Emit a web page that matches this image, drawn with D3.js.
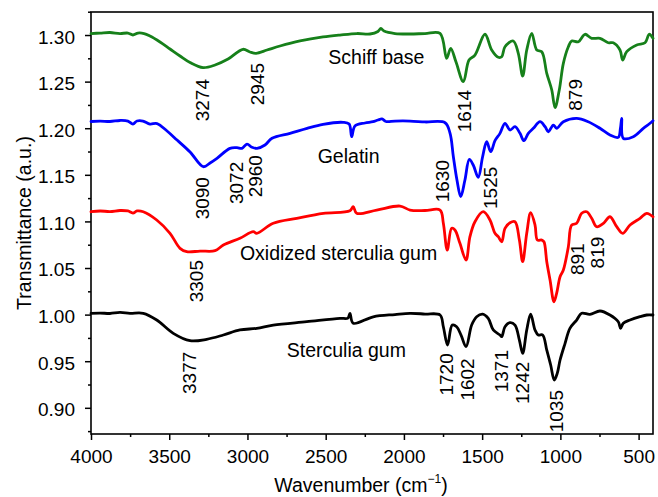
<!DOCTYPE html>
<html>
<head>
<meta charset="utf-8">
<script src="https://cdn.jsdelivr.net/npm/d3@7"></script>
<style>
  html, body { margin: 0; padding: 0; background: #fff; }
  svg text { font-family: "Liberation Sans", Arial, Helvetica, sans-serif; fill: #000; }
</style>
</head>
<body>
<svg id="chart" width="658" height="497"></svg>
<script>
// FTIR spectra: [wavenumber (cm-1), transmittance (a.u.)]
const schiffBase = [
  [4000,1.3016],[3942,1.3021],[3879,1.3027],[3815,1.3016],[3764,1.3021],[3732,1.300],[3700,1.3021],
  [3661,1.3016],[3623,1.2989],[3559,1.2925],[3495,1.285],[3431,1.2775],[3367,1.2705],[3284,1.265],
  [3207,1.2678],[3124,1.2742],[3029,1.2847],[2984,1.2818],[2945,1.2804],[2875,1.2839],[2792,1.2882],
  [2664,1.2936],[2517,1.2979],[2409,1.300],[2300,1.3016],[2217,1.3011],[2166,1.3038],[2147,1.307],
  [2127,1.3043],[2057,1.3016],[1961,1.3011],[1865,1.3016],[1769,1.3018],[1727,1.275],[1701,1.2857],
  [1667,1.271],[1620,1.2499],[1584,1.2732],[1546,1.2785],[1482,1.3008],[1439,1.2839],[1397,1.2761],
  [1375,1.2767],[1354,1.2874],[1301,1.2936],[1269,1.2804],[1241,1.256],[1215,1.2839],[1183,1.3018],
  [1151,1.2839],[1119,1.2821],[1087,1.2589],[1055,1.241],[1034,1.222],[1007,1.241],[981,1.2696],
  [949,1.2874],[928,1.2936],[885,1.2928],[843,1.3008],[800,1.2965],[747,1.2965],[694,1.2917],
  [662,1.2917],[619,1.2839],[602,1.2732],[576,1.2821],[512,1.2893],[459,1.2917],[432,1.3008],[408,1.2965]
];
const gelatin = [
  [4000,1.2072],[3942,1.2077],[3879,1.2072],[3815,1.2083],[3764,1.2077],[3732,1.2045],[3706,1.2077],
  [3668,1.2077],[3623,1.2045],[3578,1.205],[3514,1.197],[3450,1.1873],[3367,1.1745],[3282,1.1587],
  [3239,1.1627],[3195,1.1677],[3112,1.1784],[3067,1.1791],[3035,1.1784],[3003,1.183],[2971,1.1795],
  [2939,1.1784],[2888,1.182],[2843,1.1892],[2728,1.1945],[2619,1.1999],[2517,1.2042],[2389,1.2063],
  [2350,1.2045],[2334,1.1909],[2313,1.2024],[2249,1.2056],[2198,1.207],[2166,1.2088],[2140,1.2099],
  [2115,1.2072],[2057,1.2077],[1961,1.2077],[1865,1.2067],[1737,1.2059],[1705,1.1945],[1684,1.1694],
  [1661,1.1444],[1637,1.1265],[1610,1.1444],[1582,1.1666],[1557,1.1605],[1525,1.1473],[1497,1.1694],
  [1471,1.1855],[1445,1.1748],[1418,1.1866],[1386,1.1945],[1354,1.2053],[1322,1.1981],[1290,1.2016],
  [1258,1.1945],[1233,1.1866],[1205,1.1945],[1173,1.1999],[1130,1.207],[1098,1.2016],[1077,1.1962],
  [1045,1.2034],[1024,1.1999],[981,1.207],[896,1.2106],[822,1.207],[747,1.1999],[683,1.1927],
  [630,1.1902],[616,1.2002],[608,1.2106],[598,1.1892],[534,1.1909],[470,1.1999],[427,1.2053],[408,1.2081]
];
const oxidizedGum = [
  [4000,1.1104],[3942,1.1112],[3879,1.1106],[3815,1.1117],[3764,1.1112],[3732,1.109],[3706,1.1112],
  [3666,1.1104],[3580,1.1015],[3495,1.0872],[3431,1.0711],[3388,1.0675],[3303,1.0682],[3207,1.0686],
  [3154,1.0747],[3048,1.0819],[2963,1.089],[2941,1.0872],[2835,1.098],[2685,1.1033],[2515,1.1087],
  [2345,1.1115],[2324,1.1158],[2302,1.1087],[2174,1.1122],[2025,1.1165],[1961,1.1122],[1865,1.1117],
  [1769,1.1122],[1748,1.098],[1723,1.0693],[1695,1.0926],[1674,1.0908],[1642,1.0765],[1603,1.0586],
  [1578,1.0836],[1546,1.0997],[1493,1.1104],[1450,1.1015],[1418,1.0872],[1397,1.0836],[1375,1.0782],
  [1354,1.0926],[1322,1.0986],[1290,1.0997],[1262,1.08],[1241,1.0568],[1215,1.0872],[1190,1.1093],
  [1162,1.0961],[1147,1.08],[1119,1.08],[1105,1.0782],[1087,1.0568],[1066,1.0371],[1041,1.0138],
  [1024,1.0228],[1002,1.0407],[981,1.0479],[949,1.0729],[928,1.0961],[896,1.098],[864,1.1087],
  [832,1.1104],[800,1.1033],[768,1.0943],[725,1.098],[683,1.105],[640,1.0943],[602,1.0872],
  [555,1.0961],[491,1.1033],[448,1.1087],[408,1.105]
];
const sterculiaGum = [
  [4000,1.0014],[3942,1.0017],[3879,1.0012],[3815,1.0023],[3751,1.0014],[3666,1.0014],[3580,0.9942],
  [3474,0.9799],[3367,0.972],[3261,0.9735],[3154,0.9781],[3048,0.9835],[2941,0.9853],[2835,0.9888],
  [2621,0.9924],[2409,0.996],[2358,0.9963],[2345,1.0014],[2324,0.9907],[2196,0.9977],[2057,1.0001],
  [1961,1.0014],[1865,1.0006],[1769,0.9996],[1748,0.987],[1721,0.9674],[1691,0.9888],[1663,0.987],
  [1635,0.9781],[1603,0.9656],[1567,0.9888],[1535,0.9977],[1497,1.0006],[1461,0.996],[1429,0.9835],
  [1386,0.9781],[1375,0.9763],[1354,0.987],[1322,0.9914],[1290,0.9888],[1262,0.9727],[1241,0.9585],
  [1215,0.9835],[1190,1.0006],[1162,0.9835],[1141,0.9781],[1113,0.9781],[1087,0.962],[1062,0.9459],
  [1039,0.9298],[1020,0.937],[1002,0.9513],[970,0.9692],[939,0.9853],[896,0.9942],[864,1.0014],
  [811,1.0003],[747,1.0039],[683,0.9996],[630,0.9924],[615,0.9853],[598,0.9907],[555,0.9942],
  [491,0.9978],[448,0.9996],[408,0.9996]
];

const seriesNames  = ["Schiff base", "Gelatin", "Oxidized sterculia gum", "Sterculia gum"];
const seriesData   = [schiffBase, gelatin, oxidizedGum, sterculiaGum];
const seriesColors = ["#16801a", "#0000ff", "#ff0000", "#000000"];

// Axis ticks
const xMajorTicks = [4000, 3500, 3000, 2500, 2000, 1500, 1000, 500];
const xMinorTicks = [3750, 3250, 2750, 2250, 1750, 1250, 750];
const yMajorTicks = [0.90, 0.95, 1.00, 1.05, 1.10, 1.15, 1.20, 1.25, 1.30];
const yMinorTicks = [0.875, 0.925, 0.975, 1.025, 1.075, 1.125, 1.175, 1.225, 1.275, 1.325];

// Series name placement: [name index, wavenumber at text start, transmittance at baseline]
const nameSpots = [[0, 2483, 1.2689], [1, 2551, 1.163], [2, 3048, 1.0586], [3, 2749, 0.9548]];

// Band labels: [text, wavenumber at label centre, transmittance at label top]
const bandLabels = [
  ["3274", 3287, 1.2528], ["2945", 2939, 1.270], ["1614", 1613, 1.241], ["879", 907, 1.2528],
  ["3090", 3287, 1.1476], ["3072", 3070, 1.164], ["2960", 2952, 1.1712], ["1630", 1753, 1.1659], ["1525", 1450, 1.1587],
  ["3305", 3329, 1.0586], ["891", 891, 1.0765], ["819", 763, 1.0836],
  ["3377", 3374, 0.9602], ["1720", 1727, 0.9585], ["1602", 1595, 0.9531], ["1371", 1379, 0.962],
  ["1242", 1247, 0.9495], ["1035", 1026, 0.9191]
];

const svg = d3.select("#chart");
const plotLeft = 91, plotRight = 653, plotTop = 12, plotBottom = 434;

const x = d3.scaleLinear().domain([4000, 408]).range([plotLeft, plotRight]);
const y = d3.scaleLinear().domain([0.8719, 1.3247]).range([plotBottom, plotTop]);

const fontSize = 19;

// Axes
const gx = svg.append("g").attr("transform", `translate(0,${plotBottom})`)
  .call(d3.axisBottom(x).tickValues(xMajorTicks).tickFormat(d3.format("d"))
        .tickSize(6).tickSizeOuter(0).tickPadding(10));
const gxm = svg.append("g").attr("transform", `translate(0,${plotBottom})`)
  .call(d3.axisBottom(x).tickValues(xMinorTicks).tickFormat("").tickSize(3).tickSizeOuter(0));
const gy = svg.append("g").attr("transform", `translate(${plotLeft},0)`)
  .call(d3.axisLeft(y).tickValues(yMajorTicks).tickFormat(d3.format(".2f"))
        .tickSize(6).tickSizeOuter(0).tickPadding(10));
const gym = svg.append("g").attr("transform", `translate(${plotLeft},0)`)
  .call(d3.axisLeft(y).tickValues(yMinorTicks).tickFormat("").tickSize(3).tickSizeOuter(0));

[gx, gxm, gy, gym].forEach(g => {
  g.select(".domain").remove();
  g.selectAll(".tick line").attr("stroke", "#000").attr("stroke-width", 1.5);
  g.selectAll(".tick text").attr("font-size", fontSize)
    .attr("font-family", "'Liberation Sans', Arial, sans-serif").attr("fill", "#000");
});
gy.selectAll(".tick text").attr("dy", "0.42em");

// Plot frame
svg.append("rect")
  .attr("x", plotLeft).attr("y", plotTop)
  .attr("width", plotRight - plotLeft).attr("height", plotBottom - plotTop)
  .attr("fill", "none").attr("stroke", "#000").attr("stroke-width", 1.6);

// Spectra, drawn as smooth traces through the sampled points
const line = d3.line().x(d => x(d[0])).y(d => y(d[1])).curve(d3.curveCatmullRom.alpha(0.5));
const plot = svg.append("g");
seriesData.forEach((data, i) => {
  plot.append("path")
    .datum(data)
    .attr("d", line)
    .attr("fill", "none")
    .attr("stroke", seriesColors[i])
    .attr("stroke-width", 2.8)
    .attr("stroke-linejoin", "round")
    .attr("stroke-linecap", "round");
});

// Series names
svg.append("g").selectAll("text").data(nameSpots).join("text")
  .attr("x", d => x(d[1]))
  .attr("y", d => y(d[2]))
  .attr("font-size", fontSize + 0.5)
  .text(d => seriesNames[d[0]]);

// Band labels, rotated to read upward
svg.append("g").selectAll("text").data(bandLabels).join("text")
  .attr("transform", d => `translate(${x(d[1])},${y(d[2])}) rotate(-90)`)
  .attr("text-anchor", "end")
  .attr("dy", "0.36em")
  .attr("font-size", fontSize)
  .text(d => d[0]);

// Axis titles
const xTitle = svg.append("text")
  .attr("x", 361).attr("y", 491.5)
  .attr("text-anchor", "middle")
  .attr("font-size", 19.5);
xTitle.append("tspan").text("Wavenumber (cm");
xTitle.append("tspan").attr("font-size", 12).attr("dy", "-0.75em").text("\u22121");
xTitle.append("tspan").attr("dy", "0.48em").text(")");

svg.append("text")
  .attr("transform", "translate(31,223) rotate(-90)")
  .attr("text-anchor", "middle")
  .attr("font-size", 19.5)
  .text("Transmittance (a.u.)");
</script>
</body>
</html>
